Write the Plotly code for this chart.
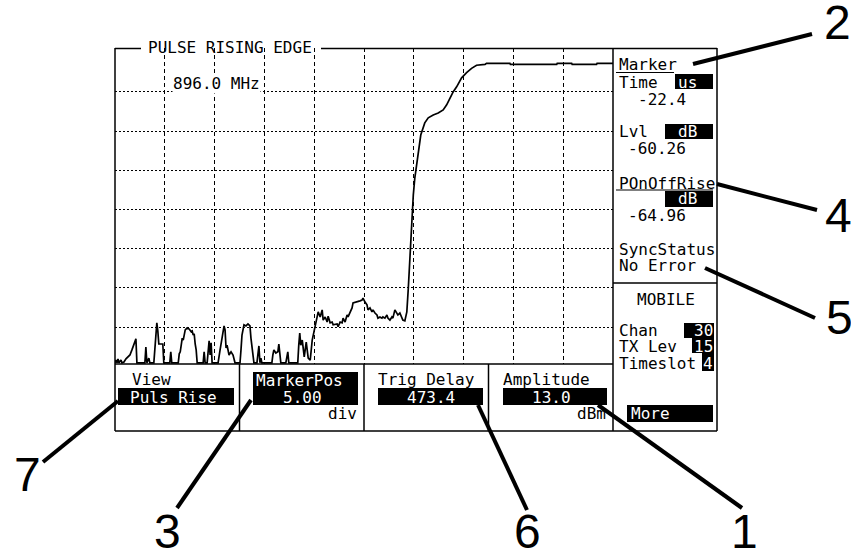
import plotly.graph_objects as go

W, H = 851, 552
MONO = "DejaVu Sans Mono"
SANS = "Liberation Sans"

# ---- trace data: (time in graticule divisions, level in graticule divisions)
noise = [(0.00,0.09),(0.02,0.16),(0.04,0.09),(0.06,0.19),(0.08,0.09),(0.12,0.16),(0.14,0.09),
         (0.18,0.11),(0.22,0.19),(0.26,0.24),(0.30,0.29),(0.34,0.42),(0.38,0.54),(0.42,0.70),
         (0.44,0.09),(0.60,0.09),(0.62,0.49),(0.64,0.09),(0.68,0.21),(0.70,0.09),(0.78,0.09),
         (0.80,0.39),(0.82,0.67),(0.84,1.11),(0.86,0.90),(0.88,0.57),(0.96,0.57),(0.98,0.09),
         (1.10,0.09),(1.12,0.37),(1.14,0.09),(1.27,0.09),(1.29,0.32),(1.31,0.37),(1.33,0.54),
         (1.35,0.72),(1.37,0.67),(1.39,0.83),(1.41,0.93),(1.45,0.98),(1.49,0.95),(1.53,0.88),
         (1.55,0.90),(1.57,0.80),(1.59,0.83),(1.61,0.57),(1.63,0.42),(1.65,0.09),(1.77,0.09),
         (1.79,0.37),(1.81,0.09),(1.85,0.09),(1.87,0.47),(1.89,0.65),(1.91,0.29),(1.93,0.60),
         (1.95,0.09),(2.07,0.09),(2.11,0.42),(2.15,0.77),(2.19,1.03),(2.21,0.93),(2.23,0.47),
         (2.25,0.54),(2.29,0.29),(2.33,0.37),(2.37,0.29),(2.41,0.09),(2.51,0.09),(2.53,0.42),
         (2.55,0.80),(2.59,1.06),(2.63,1.03),(2.67,1.08),(2.71,1.03),(2.73,0.72),(2.75,0.47),
         (2.77,0.37),(2.79,0.09),(2.85,0.09),(2.87,0.42),(2.89,0.52),(2.91,0.09),(2.93,0.21),
         (2.95,0.09),(3.15,0.09),(3.17,0.29),(3.19,0.42),(3.23,0.34),(3.27,0.37),(3.29,0.57),
         (3.31,0.37),(3.33,0.09),(3.43,0.09),(3.45,0.29),(3.47,0.37),(3.49,0.09),(3.67,0.09),
         (3.69,0.54),(3.71,0.85),(3.73,0.54),(3.76,0.67),(3.80,0.24),(3.84,0.62),(3.88,0.21),
         (3.92,0.16),(3.96,0.67)]
hump = [(4.00,0.93),(4.04,1.18),(4.06,1.26),(4.08,1.39),(4.12,1.26),(4.16,1.44),(4.18,1.18),
        (4.22,1.26),(4.26,1.13),(4.28,1.28),(4.32,1.11),(4.36,1.13),(4.38,1.06),(4.46,1.08),
        (4.48,1.01),(4.52,1.13),(4.56,1.11),(4.58,1.23),(4.62,1.13),(4.66,1.31),(4.68,1.26),
        (4.72,1.39),(4.76,1.49),(4.78,1.62),(4.86,1.64),(4.92,1.67),(4.96,1.69),(4.98,1.74),
        (5.02,1.64),(5.06,1.57),(5.08,1.44),(5.12,1.49),(5.16,1.39),(5.18,1.44),(5.22,1.36),
        (5.26,1.31),(5.28,1.23),(5.32,1.26),(5.36,1.23),(5.38,1.26),(5.42,1.23),(5.46,1.31),
        (5.48,1.23),(5.52,1.18),(5.56,1.26),(5.58,1.23),(5.62,1.44),(5.66,1.36),(5.68,1.31),
        (5.72,1.36),(5.76,1.23),(5.78,1.18),(5.82,1.16)]
edge = [(5.86,1.39),(5.89,2.00),(5.92,2.77),(5.96,3.61),(5.99,4.37),(6.02,4.80),(6.06,5.14),
        (6.09,5.47),(6.14,5.90),(6.22,6.21),(6.29,6.34),(6.39,6.41),(6.49,6.46),(6.59,6.54),
        (6.66,6.67),(6.73,6.85),(6.79,7.00),(6.86,7.13),(6.96,7.36),(7.06,7.49),(7.16,7.60),
        (7.26,7.68),(7.43,7.70)]
top = [(7.46,7.73),(7.93,7.73),(7.94,7.70),(8.87,7.70),(8.88,7.73),(9.17,7.73),(9.18,7.70),
       (9.67,7.70),(9.68,7.73),(10.00,7.73)]

x_ticks = [1, 2, 3, 4, 5, 6, 7, 8, 9]
y_ticks = [1, 2, 3, 4, 5, 6, 7]

title = "PULSE RISING EDGE"
freq_label = "896.0 MHz"

points = noise + hump + edge + top
tx = [p[0] for p in points]
ty = [p[1] for p in points]

fig = go.Figure()
fig.add_trace(go.Scatter(x=tx, y=ty, mode="lines", line=dict(color="black", width=1.7),
                         hoverinfo="skip", showlegend=False))


def PX(x):
    return x / W


def PY(y):
    return 1 - y / H


shapes = []
annots = []


def line(x0, y0, x1, y1, w=1.5):
    shapes.append(dict(type="line", xref="paper", yref="paper", x0=PX(x0), y0=PY(y0),
                       x1=PX(x1), y1=PY(y1), line=dict(color="black", width=w), layer="above"))


def box(x0, y0, x1, y1):
    shapes.append(dict(type="rect", xref="paper", yref="paper", x0=PX(x0), y0=PY(y0),
                       x1=PX(x1), y1=PY(y1), fillcolor="black", line=dict(width=0), layer="above"))


def text(x, y, s, anchor="left", color="black", size=16, family=MONO, bg=None):
    a = dict(x=PX(x), y=PY(y), xref="paper", yref="paper", text=s, showarrow=False,
             xanchor=anchor, yanchor="middle", borderpad=0,
             font=dict(family=family, size=size, color=color))
    if bg:
        a["bgcolor"] = bg
    annots.append(a)


# frame
line(115, 48.5, 141, 48.5)
line(321, 48.5, 717, 48.5)
line(115, 48, 115, 431)
line(613, 48, 613, 431)
line(717, 48, 717, 431)
line(115, 364, 613, 364)
line(115, 431, 717, 431)
line(613, 283, 717, 283)
for xd in (239.5, 364, 488.5):
    line(xd, 364, xd, 431)

text(147, 48, title)
text(172, 83, freq_label, bg="white")

# right panel
text(618, 65, "Marker")
line(616, 72.5, 674, 72.5, 1.2)
text(618, 82, "Time")
box(675, 74, 713, 89)
text(677, 82, "us", color="white")
text(637, 99, "-22.4")
text(618, 132, "Lvl")
box(665, 124, 713, 139)
text(677, 132, "dB", color="white")
text(627, 148, "-60.26")
text(618, 183, "POnOffRise")
line(616, 190, 713, 190, 1.2)
box(665, 191, 713, 207)
text(677, 199, "dB", color="white")
text(627, 216, "-64.96")
text(618, 249, "SyncStatus")
text(618, 266, "No Error")
text(666, 299, "MOBILE", anchor="center")
text(618, 330, "Chan")
box(684, 323, 714, 338)
text(714, 330, "30", anchor="right", color="white")
text(618, 346, "TX Lev")
box(692, 338, 714, 353)
text(714, 346, "15", anchor="right", color="white")
text(618, 363, "Timeslot")
box(702, 353, 714, 371)
text(714, 363, "4", anchor="right", color="white")
box(627, 405, 713, 422)
text(630, 413, "More", color="white")

# soft keys
text(131, 379, "View")
box(118, 388, 234, 405)
text(129, 397, "Puls Rise", color="white")
box(253, 372, 358, 405)
text(255, 380, "MarkerPos", color="white")
text(302, 397, "5.00", anchor="center", color="white")
text(358, 413, "div", anchor="right")
text(377, 379, "Trig Delay")
box(378, 388, 483, 405)
text(431, 397, "473.4", anchor="center", color="white")
text(502, 379, "Amplitude")
box(503, 388, 607, 405)
text(551, 397, "13.0", anchor="center", color="white")
text(607, 413, "dBm", anchor="right")

# callouts
callouts = [
    ("1", (598, 405), (742, 508), (744, 531)),
    ("2", (693, 64), (812, 34), (837, 23)),
    ("3", (177, 508), (251, 400), (167, 531)),
    ("4", (717, 184), (817, 210), (838, 216)),
    ("5", (705, 268), (815, 318), (839, 317)),
    ("6", (478, 405), (527, 510), (527, 531)),
    ("7", (43, 462), (118, 401), (27, 474)),
]
for num, a, b, c in callouts:
    line(a[0], a[1], b[0], b[1], 4)
    text(c[0], c[1], num, anchor="center", size=48, family=SANS)

fig.update_layout(
    width=W, height=H, margin=dict(l=0, r=0, t=0, b=0),
    paper_bgcolor="white", plot_bgcolor="white",
    xaxis=dict(domain=[115 / W, 613 / W], range=[0, 10], tickvals=x_ticks, showticklabels=False,
               ticks="", showgrid=True, gridcolor="black", gridwidth=1.2, griddash="4px,3px",
               zeroline=False, showline=False, fixedrange=True),
    yaxis=dict(domain=[1 - 364 / H, 1 - 48 / H], range=[0.06, 8.12], tickvals=y_ticks,
               showticklabels=False, ticks="", showgrid=True, gridcolor="black", gridwidth=1.2,
               griddash="2px,2px", zeroline=False, showline=False, fixedrange=True),
    shapes=shapes, annotations=annots, showlegend=False,
)

fig.write_html("out.html", config={"displayModeBar": False},
               post_script="document.body.style.margin='0px';document.body.style.overflow='hidden';")
